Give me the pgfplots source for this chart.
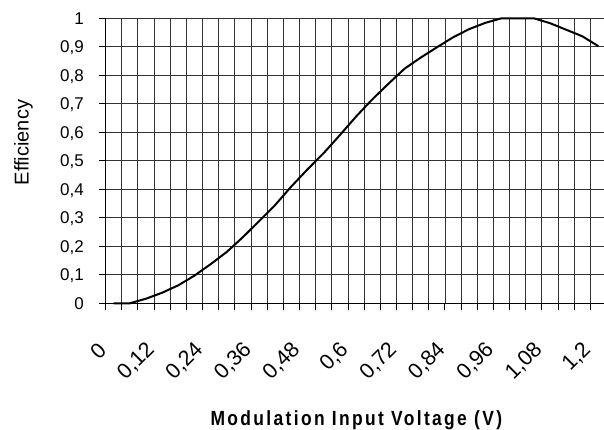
\documentclass[border=0pt]{standalone}
\usepackage{fontspec}
\setmainfont{Liberation Sans}
\newfontfamily\titlefont[FakeStretch=0.85,LetterSpace=11.5]{Liberation Sans}
\usepackage{pgfplots}
\pgfplotsset{compat=1.18}
\begin{document}
\begin{tikzpicture}
\path[use as bounding box] (-105.5pt,-126.7pt) rectangle (498.5pt,303.3pt);
\begin{axis}[
  scale only axis, width=501pt, height=285pt,
  xmin=-0.5, xmax=30.5, ymin=0, ymax=1,
  clip=false,
  axis x line*=bottom, axis y line*=left,
  axis line style={black, line width=1pt, -},
  xtick={-0.5,0.5,1.5,2.5,3.5,4.5,5.5,6.5,7.5,8.5,9.5,10.5,11.5,12.5,13.5,14.5,15.5,16.5,17.5,18.5,19.5,20.5,21.5,22.5,23.5,24.5,25.5,26.5,27.5,28.5,29.5,30.5},
  xticklabels={},
  ytick={0,0.1,0.2,0.3,0.4,0.5,0.6,0.7,0.8,0.9,1},
  yticklabels={0,{0,1},{0,2},{0,3},{0,4},{0,5},{0,6},{0,7},{0,8},{0,9},1},
  grid=major,
  major grid style={black!80, line width=0.75pt},
  tick align=outside, major tick length=6.5pt,
  tick style={black, line width=0.8pt},
  extra x ticks={0,3,6,9,12,15,18,21,24,27,30},
  extra x tick labels={0,{0,12},{0,24},{0,36},{0,48},{0,6},{0,72},{0,84},{0,96},{1,08},{1,2}},
  extra x tick style={grid=none, major tick length=0pt,
    xticklabel style={font=\fontsize{21.5}{22}\selectfont, inner sep=0pt, xshift=-11pt, yshift=-43pt, rotate=45, anchor=east}},
  yticklabel style={font=\fontsize{17}{17}\selectfont, inner sep=0pt, xshift=-15pt, yshift=-6pt, anchor=base east},
  every axis y label/.style={at={(axis description cs:-0.1637,0.564)}, rotate=90, anchor=center, font=\fontsize{20}{20}\selectfont},
  every axis x label/.style={at={(axis description cs:0.5006,-0.43)}, anchor=base, font=\titlefont\bfseries\fontsize{20.5}{21}\selectfont},
  ylabel={Efficiency},
  xlabel={Modulation Input Voltage (V)},
]
\addplot[black, line width=2pt, line join=round] coordinates {
(0,0) (1,0) (2,0.016) (3,0.037) (4,0.063) (5,0.097) (6,0.137) (7,0.18)
(8,0.232) (9,0.288) (10,0.345) (11,0.41) (12,0.47) (13,0.527) (14,0.59)
(15,0.655) (16,0.715) (17,0.77) (18,0.823) (19,0.862) (20,0.898) (21,0.933)
(22,0.962) (23,0.984) (24,1.0) (25,1.0) (26,1.0) (27,0.983) (28,0.96)
(29,0.937) (30,0.902)
};
\end{axis}
\end{tikzpicture}
\end{document}
